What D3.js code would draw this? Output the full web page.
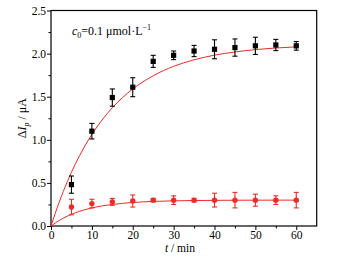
<!DOCTYPE html>
<html><head><meta charset="utf-8">
<script src="https://cdn.jsdelivr.net/npm/d3@7"></script>
<style>body{margin:0;background:#fff}svg{display:block}text{font-family:"Liberation Serif","Times New Roman",serif;fill:#000}</style>
</head><body><svg id="c" width="343" height="257"></svg>
<script>
const times = [5,10,15,20,25,30,35,40,45,50,55,60];
const blackVals = [0.48,1.10,1.49,1.61,1.91,1.98,2.03,2.05,2.07,2.09,2.10,2.09];
const blackErr  = [0.10,0.09,0.10,0.11,0.07,0.05,0.065,0.11,0.10,0.10,0.065,0.05];
const redVals = [0.22,0.26,0.28,0.29,0.30,0.30,0.30,0.30,0.30,0.30,0.30,0.30];
const redErr  = [0.09,0.05,0.04,0.07,0.02,0.05,0.02,0.08,0.09,0.07,0.05,0.09];
const fitT = [0,2,4,6,8,10,12.5,15,17.5,20,25,30,35,40,45,50,55,60];
const blackFit = [0,0.276,0.515,0.724,0.905,1.062,1.230,1.372,1.490,1.590,1.743,1.852,1.928,1.982,2.019,2.046,2.065,2.078];
const redFit = [0,0.064,0.114,0.154,0.185,0.210,0.233,0.250,0.263,0.273,0.285,0.292,0.2955,0.2975,0.299,0.2995,0.300,0.300];
const xTicks = [0,10,20,30,40,50,60];
const yTicks = [0.0,0.5,1.0,1.5,2.0,2.5];

const svg = d3.select("#c");
const L=51, R=316.7, T=10.5, B=226;
const x = d3.scaleLinear().domain([0,65]).range([L,R]);
const y = d3.scaleLinear().domain([0,2.5]).range([B,T]);
const red = "#ee2b26";

// axes
const xAxis = d3.axisBottom(x).tickValues(xTicks).tickSize(4).tickPadding(1).tickFormat(d3.format("d"));
svg.append("g").attr("transform",`translate(0,${B})`).call(xAxis);
const xMinor = d3.axisBottom(x).tickValues([5,15,25,35,45,55]).tickSize(2.5).tickFormat("");
svg.append("g").attr("transform",`translate(0,${B})`).call(xMinor);
const yAxis = d3.axisLeft(y).tickValues(yTicks).tickSize(4).tickPadding(1).tickFormat(d3.format(".1f"));
svg.append("g").attr("transform",`translate(${L},0)`).call(yAxis);
const yMinor = d3.axisLeft(y).tickValues([0.25,0.75,1.25,1.75,2.25]).tickSize(2.5).tickFormat("");
svg.append("g").attr("transform",`translate(${L},0)`).call(yMinor);
svg.selectAll(".domain").remove();
svg.selectAll(".tick line").attr("stroke","#000").attr("stroke-width",1);
svg.selectAll(".tick text").attr("font-size",11.5).attr("font-family","Liberation Serif, serif");
svg.append("rect").attr("x",L).attr("y",T).attr("width",R-L).attr("height",B-T)
  .attr("fill","none").attr("stroke","#000").attr("stroke-width",1.2);

// fit curves
const line = (vals)=>d3.line().x((d,i)=>x(fitT[i])).y((d,i)=>y(vals[i])).curve(d3.curveMonotoneX)(vals);
svg.append("path").attr("d",line(blackFit)).attr("fill","none").attr("stroke",red).attr("stroke-width",1);
svg.append("path").attr("d",line(redFit)).attr("fill","none").attr("stroke",red).attr("stroke-width",1);

// error bars
function errs(vals, e, col){
  const g = svg.append("g").attr("stroke",col).attr("stroke-width",1.1);
  times.forEach((t,i)=>{
    const cx=x(t), y1=y(vals[i]+e[i]), y2=y(vals[i]-e[i]);
    g.append("line").attr("x1",cx).attr("x2",cx).attr("y1",y1).attr("y2",y2);
    g.append("line").attr("x1",cx-2.5).attr("x2",cx+2.5).attr("y1",y1).attr("y2",y1);
    g.append("line").attr("x1",cx-2.5).attr("x2",cx+2.5).attr("y1",y2).attr("y2",y2);
  });
}
errs(redVals, redErr, red);
errs(blackVals, blackErr, "#000");

svg.append("g").selectAll("circle").data(redVals).join("circle")
  .attr("cx",(d,i)=>x(times[i])).attr("cy",d=>y(d)).attr("r",2.7).attr("fill",red);
svg.append("g").selectAll("rect").data(blackVals).join("rect")
  .attr("x",(d,i)=>x(times[i])-2.6).attr("y",d=>y(d)-2.6).attr("width",5.2).attr("height",5.2).attr("fill","#000");

// labels
const ann = svg.append("text").attr("x",72).attr("y",35).attr("font-size",12);
ann.append("tspan").attr("font-style","italic").text("c");
ann.append("tspan").attr("dy",3).attr("font-size",8).text("0");
ann.append("tspan").attr("dy",-3).text("=0.1 μmol·L");
ann.append("tspan").attr("dy",-5).attr("font-size",8).text("−1");

const xl = svg.append("text").attr("x",180).attr("y",252).attr("text-anchor","middle").attr("font-size",11.5);
xl.append("tspan").attr("font-style","italic").text("t");
xl.append("tspan").text(" / min");

const yl = svg.append("text").attr("transform",`translate(26,${(T+B)/2}) rotate(-90)`).attr("text-anchor","middle").attr("font-size",12);
yl.append("tspan").text("Δ");
yl.append("tspan").attr("font-style","italic").text("I");
yl.append("tspan").attr("dy",3).attr("font-size",8).attr("font-style","italic").text("p");
yl.append("tspan").attr("dy",-3).text(" / μA");
</script></body></html>
